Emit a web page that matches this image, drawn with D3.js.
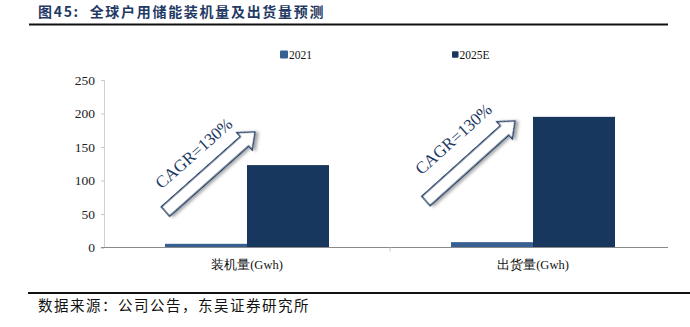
<!DOCTYPE html>
<html>
<head>
<meta charset="utf-8">
<script src="https://cdn.jsdelivr.net/npm/d3@7/dist/d3.min.js"></script>
<style>
  html, body { margin: 0; padding: 0; background: #fff; }
  svg { display: block; }
</style>
</head>
<body>
<svg id="chart" width="690" height="327"></svg>
<script>
// Chart data
const categories = ["装机量(Gwh)", "出货量(Gwh)"];
const seriesNames = ["2021", "2025E"];
const values2021 = [5.5, 8];
const values2025E = [123, 195];
const yTicks = [0, 50, 100, 150, 200, 250];
const cagrLabels = ["CAGR=130%", "CAGR=130%"];

const titleText = "图45:  全球户用储能装机量及出货量预测";
const sourceText = "数据来源：公司公告，东吴证券研究所";

const colors = { "2021": "#376092", "2025E": "#17375e" };
const navy = "#1f3a64";
const serif = "'Liberation Serif', 'Times New Roman', serif";
const cjk = "'Noto Sans CJK SC', 'Noto Sans', sans-serif";

const svg = d3.select("#chart");

// Drop shadow used by the growth arrows
const defs = svg.append("defs");
const filt = defs.append("filter").attr("id", "shadow")
  .attr("x", "-20%").attr("y", "-20%").attr("width", "150%").attr("height", "150%");
filt.append("feDropShadow").attr("dx", 2).attr("dy", 2.5)
  .attr("stdDeviation", 1.6).attr("flood-color", "#000").attr("flood-opacity", 0.35);

// Title and rules
svg.append("text").attr("x", 38).attr("y", 17)
  .attr("font-family", cjk).attr("font-weight", "bold").attr("font-size", 14)
  .attr("letter-spacing", 1.7)
  .attr("fill", navy).attr("xml:space", "preserve").text(titleText);
svg.append("line").attr("x1", 29).attr("x2", 668).attr("y1", 24.5).attr("y2", 24.5)
  .attr("stroke", "#111").attr("stroke-width", 2);
svg.append("line").attr("x1", 28).attr("x2", 690).attr("y1", 293).attr("y2", 293)
  .attr("stroke", "#111").attr("stroke-width", 2);
svg.append("text").attr("x", 38).attr("y", 311)
  .attr("font-family", cjk).attr("font-size", 14.5).attr("letter-spacing", 1.5)
  .attr("fill", "#111").text(sourceText);

// Scales
const plotLeft = 104, plotRight = 676, plotTop = 80, plotBottom = 247.5;
const x = d3.scaleBand().domain(categories).range([plotLeft, plotRight]).padding(0);
const xs = d3.scaleBand().domain(seriesNames).range([0, 164]).padding(0);
const y = d3.scaleLinear().domain([0, 250]).range([plotBottom, plotTop]);

// Y axis
const yAxis = svg.append("g").attr("transform", `translate(${plotLeft},0)`)
  .call(d3.axisLeft(y).tickValues(yTicks).tickSize(3).tickPadding(6));
yAxis.select(".domain").attr("stroke", "#d0d0d0");
yAxis.selectAll(".tick line").attr("stroke", "#c8c8c8");
yAxis.selectAll(".tick text").attr("font-family", serif).attr("font-size", 13.5).attr("fill", "#222");

// Bars
const rows = categories.map((c, i) => ({ cat: c, vals: [values2021[i], values2025E[i]] }));
const groups = svg.append("g").selectAll("g").data(rows).join("g")
  .attr("transform", d => `translate(${x(d.cat) + x.bandwidth() / 2 - 82},0)`);
groups.selectAll("rect").data(d => d.vals.map((v, j) => ({ s: seriesNames[j], v })))
  .join("rect")
  .attr("x", d => xs(d.s)).attr("width", xs.bandwidth())
  .attr("y", d => y(d.v)).attr("height", d => y(0) - y(d.v))
  .attr("fill", d => colors[d.s]);

// X axis
const xAxis = svg.append("g").attr("transform", `translate(0,${plotBottom})`)
  .call(d3.axisBottom(x).tickSize(0).tickPadding(10));
xAxis.select(".domain").remove();
xAxis.selectAll(".tick text").attr("font-family", `${serif}`).attr("font-size", 12.5).attr("fill", "#111")
  .attr("dy", "0.9em");
svg.append("line").attr("x1", plotLeft - 3).attr("x2", 668).attr("y1", plotBottom).attr("y2", plotBottom)
  .attr("stroke", "#8a8a8a").attr("stroke-width", 1.2);
// separator tick between the two categories
svg.append("line").attr("x1", x(categories[1])).attr("x2", x(categories[1]))
  .attr("y1", plotBottom).attr("y2", plotBottom + 4).attr("stroke", "#c8c8c8");

// Legend
const legend = svg.append("g");
const legendItems = [
  { s: "2021", sx: 280, size: 8 },
  { s: "2025E", sx: 452, size: 6.5 }
];
legendItems.forEach(it => {
  legend.append("rect").attr("x", it.sx).attr("y", 54.5 - it.size / 2)
    .attr("width", it.size).attr("height", it.size).attr("rx", 1).attr("fill", colors[it.s]);
  legend.append("text").attr("x", it.sx + it.size + 1).attr("y", 58.5)
    .attr("font-family", serif).attr("font-size", 11.5).attr("fill", "#111").text(it.s);
});

// Growth arrows with CAGR notes, anchored to each category's bars
const arrowLayout = [
  { tailDx: -81.5, tailY: 211.5, tipDx: 8, tipY: 132 },
  { tailDx: -107, tailY: 201, tipDx: -18, tipY: 121 }
];
categories.forEach((c, i) => {
  const cx = x(c) + x.bandwidth() / 2;
  const L = arrowLayout[i];
  const tx = cx + L.tailDx, ty = L.tailY, px = cx + L.tipDx, py = L.tipY;
  const len = Math.hypot(px - tx, py - ty);
  const ang = Math.atan2(py - ty, px - tx) * 180 / Math.PI;
  const h = 6.2, H = 11.5, hl = 14;
  const pts = [[0, -h], [len - hl, -h], [len - hl, -H], [len, 0], [len - hl, H], [len - hl, h], [0, h]];
  const g = svg.append("g").attr("transform", `translate(${tx},${ty}) rotate(${ang})`);
  g.append("path").attr("d", "M" + pts.map(p => p.join(",")).join("L") + "Z")
    .attr("fill", "#fff").attr("stroke", navy).attr("stroke-width", 1.4)
    .attr("stroke-linejoin", "miter").attr("filter", "url(#shadow)");
  g.append("text").attr("x", len / 2 + (i === 1 ? 2 : 0)).attr("y", i === 1 ? -22 : -19)
    .attr("text-anchor", "middle").attr("font-family", serif).attr("font-size", 17)
    .attr("fill", navy).text(cagrLabels[i]);
});
</script>
</body>
</html>
